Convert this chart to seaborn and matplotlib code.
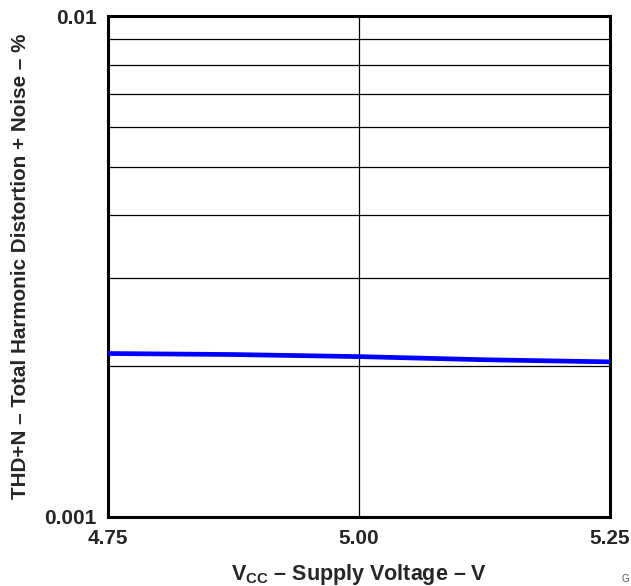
import matplotlib
matplotlib.use("Agg")
import matplotlib.pyplot as plt
import matplotlib.ticker as mticker
import numpy as np
import pandas as pd
import seaborn as sns

# THD+N versus supply voltage
vcc = [4.75, 4.875, 5.00, 5.125, 5.25]
thd_n = [0.00212, 0.00211, 0.00209, 0.00206, 0.00204]

x_ticks = [4.75, 5.00, 5.25]
x_tick_labels = ["4.75", "5.00", "5.25"]
y_ticks = [0.001, 0.01]
y_tick_labels = ["0.001", "0.01"]

df = pd.DataFrame({"vcc": vcc, "thd": thd_n})

sns.set_theme(style="white")
plt.rcParams["font.family"] = ["Liberation Sans", "DejaVu Sans"]
plt.rcParams["mathtext.fontset"] = "custom"
plt.rcParams["mathtext.rm"] = "Liberation Sans:bold"
plt.rcParams["mathtext.it"] = "Liberation Sans:bold"
plt.rcParams["mathtext.bf"] = "Liberation Sans:bold"

fig = plt.figure(figsize=(6.31, 5.86), dpi=100)
ax = fig.add_axes([108 / 631, 1 - 517 / 586, (610 - 108) / 631, (517 - 16) / 586])

ax.set_yscale("log")
ax.set_xlim(4.75, 5.25)
ax.set_ylim(0.001, 0.01)

# grid: vertical at 5.00, horizontal at each minor decade step
for yv in range(2, 10):
    ax.axhline(yv * 0.001, color="black", lw=0.9, zorder=1)
ax.axvline(5.00, color="black", lw=0.9, zorder=1)

sns.lineplot(data=df, x="vcc", y="thd", ax=ax, color="#0000ff", lw=3.4, zorder=3)

ax.set_xticks(x_ticks)
ax.set_xticklabels(x_tick_labels, fontsize=15, fontweight="bold")
ax.yaxis.set_major_locator(mticker.FixedLocator(y_ticks))
ax.yaxis.set_minor_locator(mticker.NullLocator())
ax.set_yticklabels(y_tick_labels, fontsize=15, fontweight="bold")
ax.tick_params(axis="y", length=0, pad=8)
ax.tick_params(axis="x", length=0, pad=9)

for s in ax.spines.values():
    s.set_visible(True)
    s.set_color("black")
    s.set_linewidth(2.2)

ax.set_xlabel(r"V$_{\mathrm{CC}}$ – Supply Voltage – V", fontsize=15.5, fontweight="bold", labelpad=10)
ax.set_ylabel("THD+N – Total Harmonic Distortion + Noise – %", fontsize=14.9, fontweight="bold")
ax.yaxis.set_label_coords(-0.156, 0.5)

fig.text(629 / 631, 2 / 586, "G", fontsize=7, color="#555555", ha="right", va="bottom")

fig.savefig("out.png", dpi=100)
